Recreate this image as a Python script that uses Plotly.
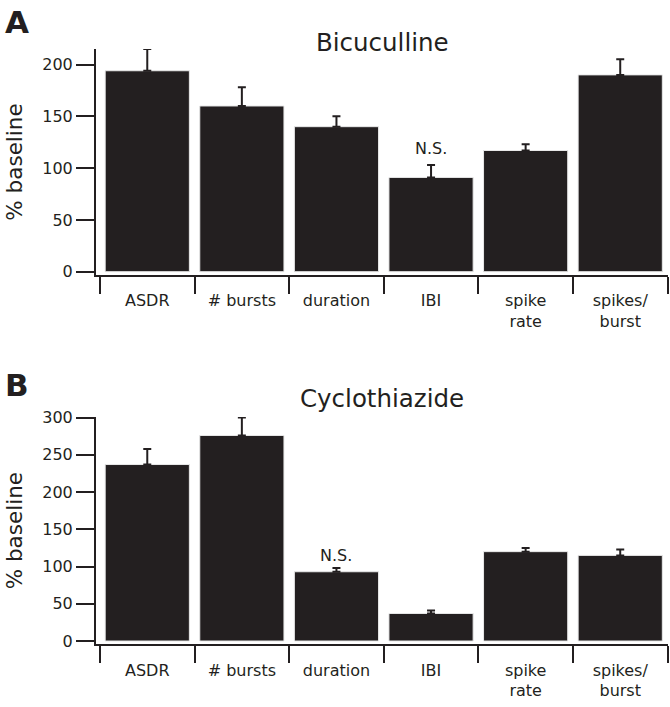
import plotly.graph_objects as go
from plotly.subplots import make_subplots

categories = ["ASDR", "# bursts", "duration", "IBI", "spike<br>rate", "spikes/<br>burst"]

bic_values = [194, 160, 140, 91, 117, 190]
bic_errors = [21, 18, 10, 12, 6, 15]

ctz_values = [237, 276, 93, 37, 120, 115]
ctz_errors = [21, 24, 5, 4, 5, 8]

bic_ns = ["", "", "", "N.S.", "", ""]
ctz_ns = ["", "", "N.S.", "", "", ""]

DARK = "#231f20"
FONT = "DejaVu Sans, Liberation Sans, Arial, sans-serif"
W, H = 670, 707

fig = make_subplots(rows=2, cols=1)

def add_bars(vals, errs, row):
    fig.add_trace(go.Bar(
        x=categories, y=vals,
        marker=dict(color=DARK, line=dict(color="#e8e8e8", width=1)),
        error_y=dict(type="data", array=errs, arrayminus=[0]*len(errs),
                     symmetric=False, color=DARK, thickness=2, width=4),
        showlegend=False,
    ), row=row, col=1)

add_bars(bic_values, bic_errors, 1)
add_bars(ctz_values, ctz_errors, 2)

def py(px):
    return 1 - px / H

def pxx(px):
    return px / W

axis_common = dict(
    showline=True, linecolor=DARK, linewidth=2,
    ticks="outside", tickcolor=DARK, tickwidth=2,
    showgrid=False, zeroline=False, automargin=False,
    tickfont=dict(family=FONT, size=16, color=DARK),
)

XRANGE = [-0.542, 5.505]
XDOM = [pxx(96), pxx(668)]

fig.update_layout(
    template="none",
    width=W, height=H,
    margin=dict(l=0, r=0, t=0, b=0, pad=0),
    plot_bgcolor="white", paper_bgcolor="white",
    bargap=0.11,
    font=dict(family=FONT, color=DARK),
)

for r, (dom, rng, dt) in enumerate([
        ((py(275), py(49)), [-3.2, 215], 50),
        ((py(644.3), py(417)), [-4.4, 300.8], 50)], start=1):
    fig.update_yaxes(axis_common, domain=list(dom), range=rng, dtick=dt, ticklen=18,
                     title=dict(text="% baseline", font=dict(family=FONT, size=21.5, color=DARK), standoff=14),
                     row=r, col=1)
    fig.update_xaxes(axis_common, domain=XDOM, range=XRANGE,
                     tickson="boundaries", ticklen=17, ticklabelstandoff=10,
                     row=r, col=1)

# small inward ticks at category centres (overlay axes)
centre_idx = list(range(len(categories)))
for name, over, anc in [("xaxis3", "x", "y"), ("xaxis4", "x2", "y2")]:
    fig.layout[name] = dict(overlaying=over, anchor=anc, type="linear", range=XRANGE,
                            tickmode="array", tickvals=centre_idx, ticks="inside", ticklen=3,
                            tickwidth=1.5, tickcolor=DARK, showticklabels=False, showline=False,
                            showgrid=False, zeroline=False, automargin=False)

# N.S. labels
for vals, errs, ns, xr, yr, off in [
        (bic_values, bic_errors, bic_ns, "x", "y", 16),
        (ctz_values, ctz_errors, ctz_ns, "x2", "y2", 17)]:
    for c, v, e, t in zip(categories, vals, errs, ns):
        if t:
            fig.add_annotation(x=c, y=v + e + off, xref=xr, yref=yr, text=t, showarrow=False,
                               font=dict(family=FONT, size=16, color=DARK), yanchor="middle")

# titles
fig.add_annotation(x=0.5, xref="x domain", y=py(42), yref="paper", text="Bicuculline",
                   showarrow=False, yanchor="middle", font=dict(family=FONT, size=24.5, color=DARK))
fig.add_annotation(x=0.5, xref="x2 domain", y=py(398), yref="paper", text="Cyclothiazide",
                   showarrow=False, yanchor="middle", font=dict(family=FONT, size=24.5, color=DARK))

# panel letters
fig.add_annotation(x=pxx(3), xref="paper", y=py(22), yref="paper", text="<b>A</b>", xanchor="left",
                   showarrow=False, yanchor="middle", font=dict(family=FONT, size=31, color=DARK))
fig.add_annotation(x=pxx(3), xref="paper", y=py(385), yref="paper", text="<b>B</b>", xanchor="left",
                   showarrow=False, yanchor="middle", font=dict(family=FONT, size=31, color=DARK))

fig.write_html("out.html", config={"displayModeBar": False},
               post_script="document.body.style.margin='0';document.body.style.overflow='hidden';")
